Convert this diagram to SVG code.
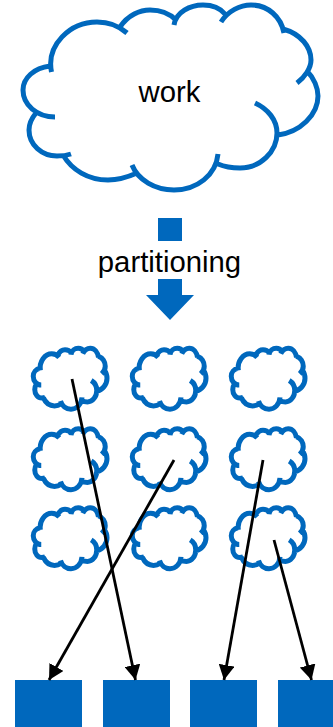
<svg xmlns="http://www.w3.org/2000/svg" xmlns:xlink="http://www.w3.org/1999/xlink" width="333" height="727" viewBox="0 0 333 727">
<style>
.c{fill:none;stroke:#0068BD;stroke-width:5;vector-effect:non-scaling-stroke}
.f{fill:#0068BD}
.t{font-family:"Liberation Sans",Arial,sans-serif;font-size:29.300px;fill:#000;text-anchor:middle}
.a{fill:none;stroke:#000;stroke-width:2.800;marker-end:url(#m)}
</style>
<defs>
<marker id="m" markerUnits="userSpaceOnUse" markerWidth="16" markerHeight="16" refX="15" refY="8" orient="auto"><path d="M0 0L15 8L0 16Z" fill="#000"/></marker>
<g id="cloud">
<path class="c" d="M51.5 72C46 45 70 22 97 22C108 22 119 26 127 33M120 27C128 15 140 10 150 10C160 10 170 14 176 20M174 25C176 12 190 5 203 5C212 5 220 8 225 14M221 22C228 11 240 5 251 5C268 5 281 17 284 33M283 29C301 34 311 47 311 60C311 68 305 77 297 83M307 71C314 78 318 88 318 96C318 115 300 132 278 135M255 103C268 109 277 120 277 133C277 152 260 168 240 168C232 168 225 167 218 164M218 154C216 175 197 190 174 190C155 190 138 180 132 165M137 173C128 177 118 180 108 180C88 180 72 170 63 155M71 154C65 156 60 156 57 156C42 156 29 145 29 130C29 125 31 119 36 113M55 117C37 117 23 105 23 90C23 78 34 68 50 66"/>
</g>
</defs>
<rect width="333" height="727" fill="#fff"/>
<g id="work"><use xlink:href="#cloud" href="#cloud"/><text class="t" x="169.500" y="102">work</text></g>
<g id="partitioning">
<rect class="f" x="158" y="218" width="24" height="23"/>
<text class="t" x="169.500" y="272">partitioning</text>
<path class="f" d="M158 279H182V295H194L170 320L146 295H158Z"/>
</g>
<g id="cloud-1-1"><use href="#cloud" transform="translate(27.500 346.500) scale(.25 .33)"/></g>
<g id="cloud-1-2"><use href="#cloud" transform="translate(126.500 346.500) scale(.25 .33)"/></g>
<g id="cloud-1-3"><use href="#cloud" transform="translate(225.500 346.500) scale(.25 .33)"/></g>
<g id="cloud-2-1"><use href="#cloud" transform="translate(27.500 427) scale(.25 .33)"/></g>
<g id="cloud-2-2"><use href="#cloud" transform="translate(126.500 427) scale(.25 .33)"/></g>
<g id="cloud-2-3"><use href="#cloud" transform="translate(225.500 427) scale(.25 .33)"/></g>
<g id="cloud-3-1"><use href="#cloud" transform="translate(27.500 506) scale(.25 .33)"/></g>
<g id="cloud-3-2"><use href="#cloud" transform="translate(126.500 506) scale(.25 .33)"/></g>
<g id="cloud-3-3"><use href="#cloud" transform="translate(225.500 506) scale(.25 .33)"/></g>
<g id="box-1"><rect class="f" x="15" y="680" width="67" height="47"/></g>
<g id="box-2"><rect class="f" x="103" y="680" width="67" height="47"/></g>
<g id="box-3"><rect class="f" x="190" y="680" width="67" height="47"/></g>
<g id="box-4"><rect class="f" x="278" y="680" width="55" height="47"/></g>
<g id="connectors">
<line class="a" x1="72" y1="379" x2="135.500" y2="680"/>
<line class="a" x1="174" y1="460" x2="49" y2="680"/>
<line class="a" x1="263" y1="460" x2="224" y2="680"/>
<line class="a" x1="274" y1="540" x2="311.500" y2="680"/>
</g>
</svg>
